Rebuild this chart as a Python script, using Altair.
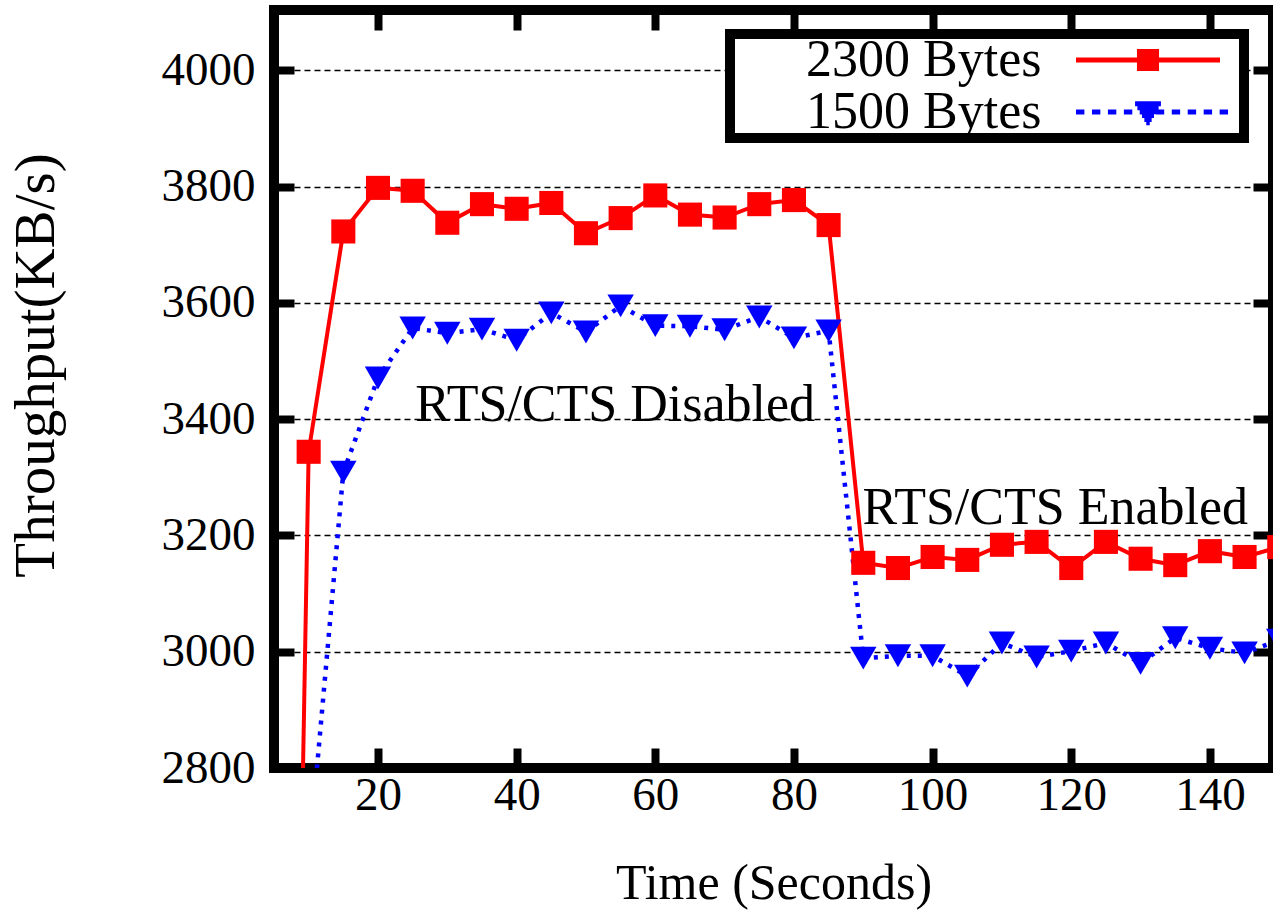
import altair as alt
import pandas as pd

time_red = [5, 10, 15, 20, 25, 30, 35, 40, 45, 50, 55, 60, 65, 70, 75, 80, 85,
            90, 95, 100, 105, 110, 115, 120, 125, 130, 135, 140, 145, 150]
red_2300 = [0, 3344, 3723, 3798, 3793, 3738, 3770, 3762, 3772, 3720, 3746, 3785, 3752, 3747,
            3770, 3777, 3734, 3153, 3144, 3163, 3158, 3184, 3189, 3144, 3189, 3160, 3149,
            3173, 3163, 3180]
blue_1500 = [0, 2640, 3309, 3471, 3557, 3548, 3555, 3536, 3583, 3550, 3595, 3561, 3560, 3554,
             3576, 3540, 3552, 2989, 2993, 2993, 2958, 3015, 2991, 3001, 3015, 2980, 3024,
             3006, 2998, 3020]
series_names = ["2300 Bytes", "1500 Bytes"]
series_colors = ["#ff0000", "#0000ff"]
y_ticks = [2800, 3000, 3200, 3400, 3600, 3800, 4000]
x_ticks = [20, 40, 60, 80, 100, 120, 140]
notes = ["RTS/CTS Disabled", "RTS/CTS Enabled"]
note_x = [54.2, 117.7]
note_y = [3425, 3248]

rows = []
for t, a, b in zip(time_red, red_2300, blue_1500):
    rows.append({"time": t, "tp": a, "series": series_names[0]})
    rows.append({"time": t, "tp": b, "series": series_names[1]})
df = pd.DataFrame(rows)
df_red = df[df.series == series_names[0]]
df_blue = df[df.series == series_names[1]]
df_notes = pd.DataFrame({"text": notes, "time": note_x, "tp": note_y})

FONT = "Liberation Serif"
XDOM = [5, 149.1]
YDOM = [2800, 4104]
TICK_IN = {"expr": "-20"}

xs = alt.Scale(domain=XDOM, nice=False, zero=False)
ys = alt.Scale(domain=YDOM, nice=False, zero=False)

x_bottom = alt.X("time:Q", scale=xs, title="Time (Seconds)",
                 axis=alt.Axis(values=x_ticks, orient="bottom", ticks=True, tickSize=TICK_IN,
                               tickWidth=8, tickColor="black", domain=False, grid=False,
                               labelPadding=24, labelFontSize=47, labelFont=FONT,
                               labelColor="black", titleFont=FONT, titleFontSize=50,
                               titleFontWeight="normal", titleColor="black", titlePadding=40))
y_left = alt.Y("tp:Q", scale=ys, title="Throughput(KB/s)",
               axis=alt.Axis(values=y_ticks, orient="left", ticks=True, tickSize=TICK_IN,
                             format="d", tickWidth=8, tickColor="black", domain=False,
                             grid=True, gridColor="black", gridDash=[6, 4], gridWidth=1.3,
                             labelPadding=39, labelFontSize=47, labelFont=FONT,
                             labelColor="black", titleFont=FONT, titleFontSize=57,
                             titleFontWeight="normal", titleColor="black", titlePadding=96,
                             titleY=355))
x_top = alt.X("time:Q", scale=xs, title=None,
              axis=alt.Axis(values=x_ticks, orient="top", ticks=True, tickSize=TICK_IN,
                            tickWidth=8, tickColor="black", domain=False, grid=False,
                            labels=False))
y_right = alt.Y("tp:Q", scale=ys, title=None,
                axis=alt.Axis(values=y_ticks, orient="right", ticks=True, tickSize=TICK_IN,
                              tickWidth=8, tickColor="black", domain=False, grid=False,
                              labels=False))
x_plain = alt.X("time:Q", scale=xs, axis=None)
y_plain = alt.Y("tp:Q", scale=ys, axis=None)

red_line = alt.Chart(df_red).mark_line(color=series_colors[0], strokeWidth=4, clip=True).encode(
    x=x_bottom, y=y_left)
red_pts = alt.Chart(df_red).mark_point(shape="square", filled=True, size=580, opacity=1,
                                       color=series_colors[0], clip=True).encode(x=x_plain, y=y_plain)
blue_line = alt.Chart(df_blue).mark_line(color=series_colors[1], strokeWidth=4.5,
                                         strokeDash=[4, 7], clip=True).encode(x=x_plain, y=y_plain)
blue_pts = alt.Chart(df_blue).mark_point(shape="triangle-down", filled=True, size=700, opacity=1,
                                         color=series_colors[1], clip=True).encode(x=x_plain, y=y_plain)

# legend symbols: stroke-only custom paths (line + solid marker made of strokes),
# 1 path unit = 12 px at symbolSize 576, stroke 5 px
def hlines(levels):
    return "".join(f"M{-w:.3f},{y:.3f}H{w:.3f}" for y, w in levels)

sq = hlines([(y, 0.92) for y in (-0.71, -0.355, 0.0, 0.355, 0.71)])
tri_levels = []
for y in (-0.69, -0.36, -0.03, 0.3, 0.63, 0.9):
    tri_levels.append((y, max(0.08, 1.2 * (1.15 - y) / 2.05)))
tri = hlines(tri_levels)
dots = "".join(f"M{-6 + i * 1.33:.2f},0H{-6 + i * 1.33 + 0.7:.2f}" for i in range(10))
ext = "M7.13,0L7.13,0.001"
path_red = "M-6,0H6" + sq + ext
path_blue = dots + tri + ext

sc = alt.Scale(domain=series_names, range=series_colors)
legend_layer = alt.Chart(df).mark_point(opacity=0, filled=False, clip=True).encode(
    x=x_top, y=y_right,
    color=alt.Color("series:N", scale=sc, legend=alt.Legend(
        title=None, orient="none", legendX=456, legendY=24,
        symbolSize=576, symbolStrokeWidth=5, symbolOpacity=1, symbolOffset=392,
        symbolFillColor="transparent",
        labelFont=FONT, labelFontSize=52, labelColor="black",
        labelOffset={"expr": "-368"}, labelLimit=400, rowPadding=0, padding=0,
        strokeColor="black", fillColor="white", cornerRadius=0, offset=0)),
    shape=alt.Shape("series:N", scale=alt.Scale(domain=series_names, range=[path_red, path_blue]),
                    legend=None),
)

texts = alt.Chart(df_notes).mark_text(font=FONT, fontSize=52, color="black").encode(
    x=x_plain, y=y_plain, text="text:N")

chart = alt.layer(red_line, blue_line, red_pts, blue_pts, texts, legend_layer).resolve_axis(
    x="independent", y="independent"
).properties(
    width=999, height=758,
    autosize=alt.AutoSizeParams(type="none"),
    padding={"left": 274, "top": 10, "right": 0, "bottom": 154},
    background="white",
).configure_view(stroke="black", strokeWidth=10).configure_legend(strokeWidth=10)

chart.save("out.html", embed_options={"renderer": "svg", "actions": False})
